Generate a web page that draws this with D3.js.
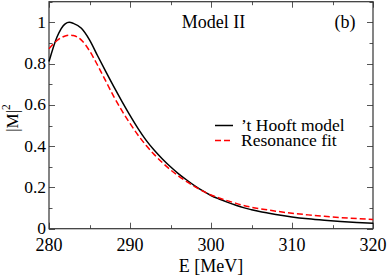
<!DOCTYPE html>
<html><head><meta charset="utf-8">
<script src="https://cdn.jsdelivr.net/npm/d3@7"></script>
<style>
html,body{margin:0;padding:0;background:#fff;}
</style></head>
<body><svg id="c" width="388" height="277"></svg>
<script>
const energy = [280,281,282,282.5,283,284,285,286,287,288,289,290,291,292,293,294,295,296,297,298,299,300,301,302,303,304,305,306,307,308,310,312,314,316,318,320];
const hooft  = [0.81,0.93,0.993,1.0,0.995,0.971,0.915,0.838,0.762,0.688,0.617,0.549,0.485,0.428,0.38,0.338,0.3,0.266,0.236,0.208,0.183,0.161,0.144,0.129,0.115,0.102,0.092,0.083,0.076,0.069,0.057,0.048,0.041,0.035,0.03,0.026];
const reson  = [0.872,0.912,0.934,0.938,0.936,0.914,0.862,0.792,0.716,0.64,0.572,0.51,0.453,0.403,0.359,0.32,0.285,0.255,0.228,0.204,0.182,0.163,0.149,0.136,0.124,0.113,0.104,0.097,0.091,0.085,0.075,0.067,0.06,0.054,0.049,0.045];
const xTicks = [280,290,300,310,320];
const yTicks = [0,0.2,0.4,0.6,0.8,1];
const yTickLabels = ["0","0.2","0.4","0.6","0.8","1"];

const L=49,R=373,T=1.7,B=228.7;
const FF="'Liberation Serif', 'Times New Roman', Times, serif";
const svg=d3.select("#c");
const x=d3.scaleLinear().domain([280,320]).range([L,R]);
const y=d3.scaleLinear().domain([0,1.1]).range([B,T]);

const g=svg.append("g");
const xMinor=d3.range(280,320.01,5), yMinor=d3.range(0,1.101,0.1);
function tick(x1,y1,x2,y2){g.append("line").attr("x1",x1).attr("y1",y1).attr("x2",x2).attr("y2",y2).attr("stroke","#555").attr("stroke-width",1);}
xMinor.forEach(v=>{const major=Math.abs(v/10-Math.round(v/10))<1e-6;const len=major?6:3.5;const px=Math.round(x(v))+0.5;tick(px,B,px,B-len);tick(px,T,px,T+len);});
yMinor.forEach(v=>{const major=Math.abs(v*5-Math.round(v*5))<1e-6;const len=major?6:3.5;const py=Math.round(y(v))+0.5;tick(L,py,L+len,py);tick(R,py,R-len,py);});
g.append("rect").attr("x",L).attr("y",T).attr("width",R-L).attr("height",B-T).attr("fill","none").attr("stroke","#333").attr("stroke-width",1.2);

function txt(xp,yp,s,size,anchor){return svg.append("text").attr("x",xp).attr("y",yp).style("font-family",FF).attr("font-size",size).attr("text-anchor",anchor||"start").attr("fill","#000").text(s);}
xTicks.forEach(v=>txt(x(v),251,v,18,"middle"));
yTicks.forEach((v,i)=>txt(46,y(v)+5.5,yTickLabels[i],17.5,"end"));
txt((L+R)/2,271.5,"E [MeV]",18,"middle");
const yl=svg.append("text").attr("transform","translate(18,118) rotate(-90)").attr("text-anchor","middle").style("font-family",FF).attr("font-size",17);
yl.append("tspan").text("|M|");
yl.append("tspan").attr("font-size",11.5).attr("dy",-8).text("2");

const line=d3.line().x((d,i)=>x(energy[i])).y(d=>y(d)).curve(d3.curveMonotoneX);
svg.append("path").datum(hooft).attr("d",line).attr("fill","none").attr("stroke","#000").attr("stroke-width",1.5);
svg.append("path").datum(reson).attr("d",line).attr("fill","none").attr("stroke","#ff0000").attr("stroke-width",1.5).attr("stroke-dasharray","6,3");

txt(213.5,27.5,"Model II",18,"middle");
txt(345,27.5,"(b)",18,"middle");
svg.append("line").attr("x1",215).attr("x2",233).attr("y1",125.5).attr("y2",125.5).attr("stroke","#000").attr("stroke-width",1.5);
txt(241,130.5,"\u2019t Hooft model",17.5);
svg.append("line").attr("x1",215).attr("x2",233).attr("y1",140.5).attr("y2",140.5).attr("stroke","#ff0000").attr("stroke-width",1.5).attr("stroke-dasharray","6,3");
txt(241,146,"Resonance fit",17.5);
</script></body></html>
